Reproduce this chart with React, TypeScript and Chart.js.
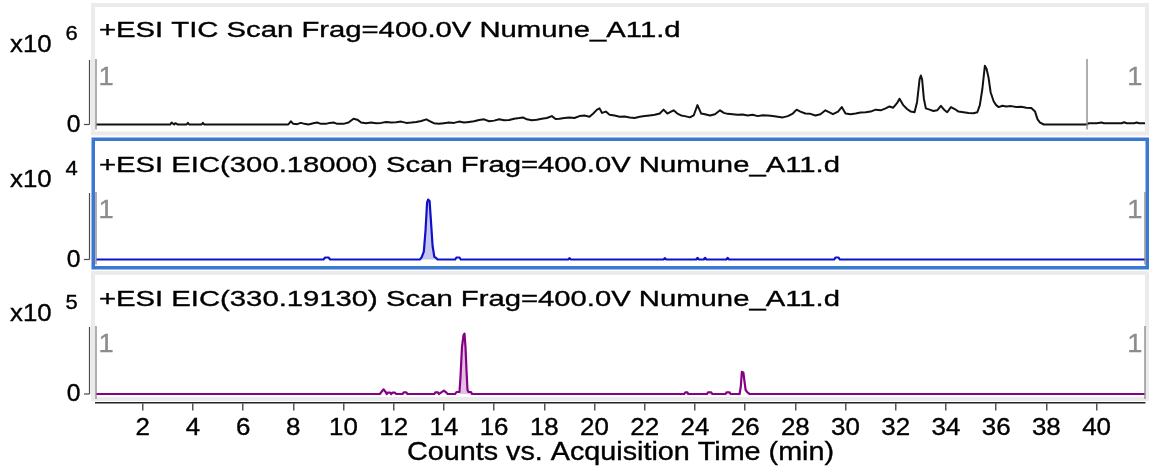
import React, { useEffect, useRef } from "react";
import { Chart, registerables } from "chart.js";

Chart.register(...registerables);

// ---------------- data ----------------
const xTickValues = [2, 4, 6, 8, 10, 12, 14, 16, 18, 20, 22, 24, 26, 28, 30, 32, 34, 36, 38, 40];
const xMin = 0.14;
const xMax = 41.93;
const xTitle = "Counts vs. Acquisition Time (min)";

const panelTitles = [
  "+ESI TIC Scan Frag=400.0V Numune_A11.d",
  "+ESI EIC(300.18000) Scan Frag=400.0V Numune_A11.d",
  "+ESI EIC(330.19130) Scan Frag=400.0V Numune_A11.d",
];
const panelExponents = ["6", "4", "5"];
const yTickValues = [0];
const segmentMarkers = [
  [0.14, 39.62],
  [0.14, 41.93],
  [0.14, 41.93],
];
const segmentLabels = ["1", "1"];

// TIC, in x10^6 counts (axis top = 1)
const ticPoints: [number, number][] = [
  [0.14, 0], [3.1, 0], [3.15, 0.03], [3.25, 0.0], [3.3, 0.02], [3.4, 0],
  [3.75, 0], [3.8, 0.025], [3.85, 0], [4.35, 0], [4.4, 0.025], [4.45, 0],
  [7.8, 0], [7.9, 0.05], [8.0, 0.01], [8.15, 0.005], [8.3, 0.025], [8.45, 0.01],
  [8.6, 0.0], [8.8, 0.02], [8.95, 0.03], [9.1, 0.01], [9.3, 0.01], [9.45, 0.025],
  [9.6, 0.03], [9.75, 0.01], [10.0, 0.01], [10.2, 0.03], [10.4, 0.09], [10.55, 0.075],
  [10.7, 0.03], [10.9, 0.02], [11.1, 0.03], [11.3, 0.02], [11.5, 0.025], [11.7, 0.04],
  [11.9, 0.03], [12.1, 0.035], [12.3, 0.045], [12.5, 0.025], [12.7, 0.03], [12.9, 0.04],
  [13.1, 0.055], [13.3, 0.08], [13.45, 0.05], [13.6, 0.02], [13.8, 0.01], [14.0, 0.02],
  [14.2, 0.03], [14.4, 0.025], [14.6, 0.045], [14.8, 0.03], [15.0, 0.04], [15.2, 0.05],
  [15.4, 0.07], [15.6, 0.08], [15.8, 0.05], [16.0, 0.06], [16.2, 0.08], [16.4, 0.065],
  [16.6, 0.07], [16.8, 0.09], [17.0, 0.1], [17.15, 0.11], [17.3, 0.08], [17.5, 0.065],
  [17.7, 0.075], [17.9, 0.09], [18.1, 0.1], [18.3, 0.13], [18.45, 0.085], [18.6, 0.09],
  [18.8, 0.1], [19.0, 0.11], [19.2, 0.1], [19.4, 0.13], [19.6, 0.14], [19.8, 0.12],
  [19.95, 0.17], [20.1, 0.23], [20.2, 0.25], [20.3, 0.18], [20.45, 0.2], [20.6, 0.15],
  [20.8, 0.14], [21.0, 0.12], [21.2, 0.125], [21.4, 0.11], [21.6, 0.1], [21.8, 0.12],
  [22.0, 0.13], [22.2, 0.14], [22.4, 0.15], [22.6, 0.17], [22.75, 0.23], [22.9, 0.17],
  [23.05, 0.2], [23.15, 0.22], [23.3, 0.17], [23.45, 0.14], [23.6, 0.13], [23.8, 0.11],
  [23.95, 0.14], [24.1, 0.3], [24.25, 0.17], [24.4, 0.16], [24.6, 0.14], [24.8, 0.16],
  [25.0, 0.22], [25.15, 0.18], [25.3, 0.165], [25.5, 0.16], [25.7, 0.15], [25.9, 0.155],
  [26.1, 0.14], [26.3, 0.15], [26.5, 0.13], [26.7, 0.145], [26.9, 0.14], [27.1, 0.13],
  [27.3, 0.12], [27.5, 0.11], [27.7, 0.13], [27.9, 0.17], [28.05, 0.23], [28.2, 0.2],
  [28.4, 0.17], [28.6, 0.165], [28.8, 0.14], [29.0, 0.16], [29.2, 0.22], [29.3, 0.2],
  [29.5, 0.16], [29.7, 0.2], [29.85, 0.27], [30.0, 0.17], [30.2, 0.16], [30.4, 0.17],
  [30.6, 0.185], [30.8, 0.19], [31.0, 0.2], [31.2, 0.23], [31.4, 0.22], [31.6, 0.25],
  [31.75, 0.28], [31.9, 0.26], [32.05, 0.33], [32.15, 0.4], [32.3, 0.3], [32.45, 0.24],
  [32.6, 0.2], [32.75, 0.19], [32.85, 0.35], [32.95, 0.7], [33.0, 0.76], [33.05, 0.7],
  [33.12, 0.4], [33.2, 0.25], [33.35, 0.23], [33.5, 0.21], [33.65, 0.22], [33.8, 0.29],
  [33.95, 0.22], [34.05, 0.19], [34.2, 0.27], [34.35, 0.24], [34.5, 0.2], [34.7, 0.19],
  [34.9, 0.18], [35.1, 0.175], [35.25, 0.19], [35.35, 0.3], [35.45, 0.55], [35.55, 0.91],
  [35.62, 0.86], [35.7, 0.72], [35.78, 0.5], [35.9, 0.36], [36.0, 0.3], [36.1, 0.27],
  [36.25, 0.29], [36.4, 0.28], [36.6, 0.285], [36.8, 0.27], [37.0, 0.275], [37.2, 0.26],
  [37.4, 0.255], [37.55, 0.2], [37.65, 0.08], [37.75, 0.03], [37.9, 0.0], [39.6, 0],
  [39.7, 0.02], [40.0, 0.02], [40.2, 0.03], [40.3, 0.02], [41.0, 0.02], [41.1, 0.035],
  [41.2, 0.02], [41.5, 0.02], [41.6, 0.03], [41.7, 0.02], [41.93, 0.02],
];

// EIC 300.18, in x10^4 counts
const eic300Points: [number, number][] = [
  [0.14, 0], [9.2, 0], [9.27, 0.03], [9.4, 0.03], [9.47, 0], [13.05, 0], [13.12, 0.04],
  [13.2, 0.12], [13.27, 0.45], [13.33, 0.86], [13.37, 0.9], [13.43, 0.88], [13.48, 0.6],
  [13.55, 0.2], [13.62, 0.04], [13.7, 0.02], [13.75, 0], [14.45, 0], [14.5, 0.03],
  [14.62, 0.03], [14.67, 0], [18.95, 0], [19.0, 0.02], [19.06, 0], [22.75, 0], [22.8, 0.02],
  [22.86, 0], [24.05, 0], [24.1, 0.025], [24.16, 0], [24.35, 0], [24.4, 0.025], [24.46, 0],
  [25.25, 0], [25.3, 0.025], [25.36, 0], [29.55, 0], [29.6, 0.03], [29.72, 0.03], [29.77, 0],
  [41.93, 0],
];
const eic300Integration = [13.05, 13.72];

// EIC 330.1913, in x10^5 counts
const eic330Points: [number, number][] = [
  [0.14, 0], [11.45, 0], [11.59, 0.07], [11.68, 0.03], [11.72, 0.0], [11.76, 0.02],
  [11.86, 0.02], [11.9, 0], [11.95, 0.02], [12.05, 0.02], [12.1, 0], [12.35, 0],
  [12.4, 0.025], [12.5, 0.025], [12.55, 0], [13.62, 0], [13.66, 0.025], [13.76, 0.025],
  [13.8, 0], [13.88, 0.02], [14.0, 0.05], [14.1, 0.02], [14.15, 0], [14.45, 0], [14.5, 0.03],
  [14.62, 0.03], [14.66, 0.25], [14.72, 0.7], [14.78, 0.88], [14.82, 0.9], [14.86, 0.7],
  [14.9, 0.35], [14.94, 0.06], [14.98, 0.03], [15.08, 0.03], [15.12, 0], [23.57, 0],
  [23.62, 0.025], [23.7, 0.025], [23.73, 0], [24.48, 0], [24.52, 0.025], [24.65, 0.025],
  [24.69, 0], [25.22, 0], [25.26, 0.025], [25.38, 0.025], [25.42, 0], [25.78, 0],
  [25.83, 0.12], [25.87, 0.33], [25.93, 0.32], [25.97, 0.2], [26.02, 0.06], [26.1, 0.02],
  [26.18, 0], [41.93, 0],
];
const eic330Integration = [14.6, 15.1];

// ---------------- layout / style ----------------
const W = 1150;
const H = 472;
const AREA = { left: 96, right: 1145, top: 3, bottom: 402.5 };
const FONT = '"Liberation Sans", Arial, Helvetica, sans-serif';
const PANELS = [
  { axis: "y1", base: 124.5, top: 60, frame: [91, 3, 1149, 135.5], frameColor: "#ebebeb", frameWidth: 4, titleY: 37 },
  { axis: "y2", base: 259.5, top: 193, frame: [91.5, 137.5, 1149, 269.5], frameColor: "#3a78d2", frameWidth: 3.5, titleY: 171.5 },
  { axis: "y3", base: 394, top: 327, frame: [91, 271, 1149, 401], frameColor: "#ebebeb", frameWidth: 4, titleY: 306 },
];

function yRange(base: number, top: number) {
  const unit = base - top;
  return { min: -(AREA.bottom - base) / unit, max: (base - AREA.top) / unit };
}

function toXY(points: [number, number][]) {
  return points.map(([x, y]) => ({ x, y }));
}
function inRange(points: [number, number][], range: number[]) {
  return toXY(points.filter(([x]) => x >= range[0] && x <= range[1]));
}

function drawText(
  ctx: CanvasRenderingContext2D, s: string, x: number, y: number, size: number, k: number,
  align: "left" | "right" | "center", color: string
) {
  ctx.save();
  ctx.font = `${size}px ${FONT}`;
  ctx.fillStyle = color;
  ctx.strokeStyle = color;
  ctx.lineWidth = 0.35;
  ctx.textBaseline = "alphabetic";
  ctx.textAlign = "left";
  const w = ctx.measureText(s).width * k;
  const x0 = align === "left" ? x : align === "right" ? x - w : x - w / 2;
  ctx.translate(x0, y);
  ctx.scale(k, 1);
  ctx.fillText(s, 0, 0);
  ctx.strokeText(s, 0, 0);
  ctx.restore();
}

const decorPlugin = {
  id: "decor",
  beforeDraw(chart: any) {
    const ctx: CanvasRenderingContext2D = chart.ctx;
    ctx.save();
    ctx.fillStyle = "#ffffff";
    ctx.fillRect(0, 0, chart.width, chart.height);
    PANELS.forEach((p) => {
      const [x0, y0, x1, y1] = p.frame;
      const hw = p.frameWidth / 2;
      ctx.strokeStyle = p.frameColor;
      ctx.lineWidth = p.frameWidth;
      ctx.strokeRect(x0 + hw, y0 + hw, x1 - x0 - p.frameWidth, y1 - y0 - p.frameWidth);
    });
    ctx.restore();
  },
  afterDraw(chart: any) {
    const ctx: CanvasRenderingContext2D = chart.ctx;
    const xs = chart.scales.x;
    const area = chart.chartArea;
    ctx.save();
    PANELS.forEach((p, i) => {
      const ys = chart.scales[p.axis];
      const base = ys.getPixelForValue(0);
      const top = ys.getPixelForValue(1);
      // y axis line + tick + label
      ctx.strokeStyle = "#4a4a4a";
      ctx.lineWidth = 1.2;
      ctx.beginPath();
      ctx.moveTo(89.5, top);
      ctx.lineTo(89.5, base);
      ctx.stroke();
      yTickValues.forEach((v) => {
        const py = ys.getPixelForValue(v);
        ctx.strokeStyle = "#4a4a4a";
        ctx.lineWidth = 1.2;
        ctx.beginPath();
        ctx.moveTo(84, py);
        ctx.lineTo(89.5, py);
        ctx.stroke();
        drawText(ctx, String(v), 80.5, py + 7, 23.5, 1.05, "right", "#000");
      });
      // exponent label
      drawText(ctx, "x10", 10, p.titleY + 15, 23, 1.12, "left", "#000");
      drawText(ctx, panelExponents[i], 65.5, p.titleY + 3, 20, 1.1, "left", "#000");
      // title
      drawText(ctx, panelTitles[i], 99, p.titleY, 22.5, 1.3, "left", "#000");
      // segment markers
      ctx.strokeStyle = "#8e8e8e";
      ctx.lineWidth = 1.4;
      segmentMarkers[i].forEach((m) => {
        const px = Math.min(Math.max(xs.getPixelForValue(m), area.left), area.right);
        ctx.beginPath();
        ctx.moveTo(px, top - 1);
        ctx.lineTo(px, base + 5);
        ctx.stroke();
      });
      drawText(ctx, segmentLabels[0], 98.5, top + 25, 26, 1.05, "left", "#8c8c8c");
      drawText(ctx, segmentLabels[1], 1142.5, top + 25, 26, 1.05, "right", "#8c8c8c");
    });
    // x tick labels
    xs.ticks.forEach((t: any) => {
      const px = xs.getPixelForValue(t.value);
      drawText(ctx, String(t.value), px, 435, 24, 1.08, "center", "#000");
    });
    drawText(ctx, xTitle, (area.left + area.right) / 2, 459.5, 25, 1.15, "center", "#000");
    ctx.restore();
  },
};

export default function App() {
  const ref = useRef<HTMLCanvasElement | null>(null);
  useEffect(() => {
    if (!ref.current) return;
    const r1 = yRange(PANELS[0].base, PANELS[0].top);
    const r2 = yRange(PANELS[1].base, PANELS[1].top);
    const r3 = yRange(PANELS[2].base, PANELS[2].top);
    const lineBase = { pointRadius: 0, tension: 0, fill: false, borderJoinStyle: "round" as const };
    const chart = new Chart(ref.current, {
      type: "line",
      data: {
        datasets: [
          { ...lineBase, label: "TIC", data: toXY(ticPoints), yAxisID: "y1", borderColor: "#111111", borderWidth: 2, order: 0 },
          { ...lineBase, label: "EIC 300.18", data: toXY(eic300Points), yAxisID: "y2", borderColor: "#1010cc", borderWidth: 2.2, order: 0 },
          { ...lineBase, label: "EIC 330.1913", data: toXY(eic330Points), yAxisID: "y3", borderColor: "#850085", borderWidth: 2.2, order: 0 },
          { ...lineBase, label: "EIC 300.18 area", data: inRange(eic300Points, eic300Integration), yAxisID: "y2", borderWidth: 0, borderColor: "rgba(0,0,0,0)", backgroundColor: "#c6c6ee", fill: "origin", order: 1 },
          { ...lineBase, label: "EIC 330.1913 area", data: inRange(eic330Points, eic330Integration), yAxisID: "y3", borderWidth: 0, borderColor: "rgba(0,0,0,0)", backgroundColor: "#e3c0e3", fill: "origin", order: 1 },
        ],
      },
      plugins: [decorPlugin],
      options: {
        animation: false,
        responsive: false,
        maintainAspectRatio: false,
        events: [],
        layout: { padding: { left: AREA.left, right: W - AREA.right, top: AREA.top, bottom: 0 } },
        plugins: { legend: { display: false }, tooltip: { enabled: false } },
        scales: {
          x: {
            type: "linear",
            min: xMin,
            max: xMax,
            position: "bottom",
            afterBuildTicks: (scale: any) => {
              scale.ticks = xTickValues.map((v) => ({ value: v }));
            },
            afterFit: (scale: any) => {
              scale.height = H - AREA.bottom;
            },
            ticks: { display: false },
            grid: { display: true, drawOnChartArea: false, drawTicks: true, tickLength: 8, color: "#555555", lineWidth: 1.5 },
            border: { display: true, color: "#222222", width: 1.5 },
          },
          y1: { type: "linear", display: false, min: r1.min, max: r1.max },
          y2: { type: "linear", display: false, min: r2.min, max: r2.max },
          y3: { type: "linear", display: false, min: r3.min, max: r3.max },
        },
      },
    } as any);
    return () => chart.destroy();
  }, []);
  return (
    <div style={{ position: "fixed", left: 0, top: 0, width: W, height: H, background: "#fff" }}>
      <canvas ref={ref} width={W} height={H} style={{ display: "block", width: W, height: H }} />
    </div>
  );
}
